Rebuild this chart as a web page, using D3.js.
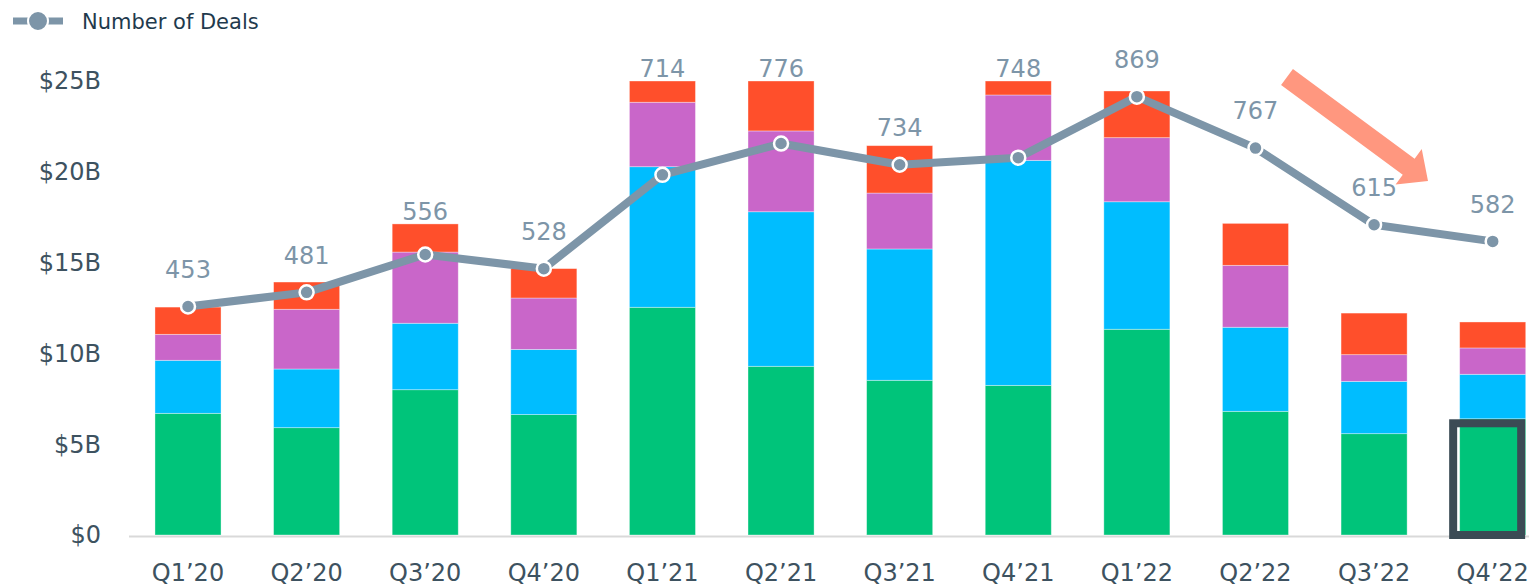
<!DOCTYPE html>
<html lang="en">
<head>
<meta charset="UTF-8">
<title>Funding and Number of Deals</title>
<script src="https://d3js.org/d3.v7.min.js"></script>
<style>
    body { margin: 0; background: #fff; }
    svg { display: block; font-family: "DejaVu Sans", sans-serif; }
    .tick-label { font-size: 24px; fill: #3d5260; }
    .deal-label { font-size: 24px; fill: #7d95a8; }
</style>
</head>
<body>
<script>
// quarters and stacked funding ($B), bottom to top
const quarters = ["Q1\u201920", "Q2\u201920", "Q3\u201920", "Q4\u201920", "Q1\u201921", "Q2\u201921",
                  "Q3\u201921", "Q4\u201921", "Q1\u201922", "Q2\u201922", "Q3\u201922", "Q4\u201922"];
const series1 = [6.70, 5.91, 8.00, 6.63, 12.54, 9.29, 8.52, 8.24, 11.33, 6.81, 5.58, 6.40];
const series2 = [2.92, 3.23, 3.66, 3.59, 7.74, 8.51, 7.23, 12.39, 7.02, 4.63, 2.88, 2.45];
const series3 = [1.43, 3.29, 3.92, 2.83, 3.55, 4.45, 3.08, 3.60, 3.53, 3.41, 1.47, 1.45];
const series4 = [1.50, 1.50, 1.55, 1.62, 1.17, 2.75, 2.61, 0.77, 2.57, 2.31, 2.29, 1.43];
const deals = [453, 481, 556, 528, 714, 776, 734, 748, 869, 767, 615, 582];
const yTicks = [0, 5, 10, 15, 20, 25];

const seriesKeys = ["s1", "s2", "s3", "s4"];
const colors = { s1: "#00c47a", s2: "#00bdff", s3: "#c966c9", s4: "#ff4f2b" };
const lineColor = "#7d95a8";

const width = 1529, height = 585;
const baseY = 535, topY = 81;

const rows = quarters.map((q, i) => ({
    q, s1: series1[i], s2: series2[i], s3: series3[i], s4: series4[i], deals: deals[i]
}));

const svg = d3.select("body").append("svg")
    .attr("width", width)
    .attr("height", height);

const x = d3.scaleBand()
    .domain(quarters)
    .range([128.7, 1552])
    .paddingInner(0.443)
    .paddingOuter(0.2215);

const y = d3.scaleLinear().domain([0, 25]).range([baseY, topY]);
const yDeals = d3.scaleLinear().domain([0, 900]).range([baseY, topY]);

// y axis labels
svg.append("g")
    .selectAll("text")
    .data(yTicks)
    .enter().append("text")
    .attr("class", "tick-label")
    .attr("x", 101)
    .attr("y", d => y(d))
    .attr("dy", "0.35em")
    .attr("text-anchor", "end")
    .text(d => d === 0 ? "$0" : "$" + d + "B");

// stacked bars
const stacked = d3.stack().keys(seriesKeys)(rows);

svg.append("g")
    .selectAll("g")
    .data(stacked)
    .enter().append("g")
    .attr("fill", d => colors[d.key])
    .selectAll("rect")
    .data(d => d)
    .enter().append("rect")
    .attr("x", d => x(d.data.q))
    .attr("width", x.bandwidth())
    .attr("y", d => y(d[1]))
    .attr("height", d => y(d[0]) - y(d[1]))
    .attr("stroke", "#fff")
    .attr("stroke-opacity", 0.45)
    .attr("stroke-width", 0.8);

// baseline
svg.append("line")
    .attr("x1", 129).attr("x2", width)
    .attr("y1", baseY + 1.5).attr("y2", baseY + 1.5)
    .attr("stroke", "#d9d9d9")
    .attr("stroke-width", 2);

// x axis labels
svg.append("g")
    .selectAll("text")
    .data(quarters)
    .enter().append("text")
    .attr("class", "tick-label")
    .attr("x", d => x(d) + x.bandwidth() / 2)
    .attr("y", 581)
    .attr("text-anchor", "middle")
    .text(d => d);

// highlight box round the last green segment
const last = stacked[0][quarters.length - 1];
svg.append("rect")
    .attr("x", x(quarters[quarters.length - 1]) - 6.5)
    .attr("y", y(last[1]) + 4.5)
    .attr("width", 68)
    .attr("height", baseY - y(last[1]) - 4.5)
    .attr("fill", "none")
    .attr("stroke", "#3b4b55")
    .attr("stroke-width", 8);

// deals line
const cx = d => x(d.q) + x.bandwidth() / 2;

svg.append("path")
    .datum(rows)
    .attr("fill", "none")
    .attr("stroke", lineColor)
    .attr("stroke-width", 8)
    .attr("stroke-linejoin", "round")
    .attr("d", d3.line().x(cx).y(d => yDeals(d.deals)));

svg.append("g")
    .selectAll("circle")
    .data(rows)
    .enter().append("circle")
    .attr("cx", cx)
    .attr("cy", d => yDeals(d.deals))
    .attr("r", 7)
    .attr("fill", lineColor)
    .attr("stroke", "#fff")
    .attr("stroke-width", 2.5);

// deal labels: above the point, but never down inside the bar
svg.append("g")
    .selectAll("text")
    .data(rows)
    .enter().append("text")
    .attr("class", "deal-label")
    .attr("x", cx)
    .attr("y", d => {
        const above = yDeals(d.deals) - 37;
        const barTop = y(d.s1 + d.s2 + d.s3 + d.s4);
        return Math.min(above, barTop - 12);
    })
    .attr("dy", "0.35em")
    .attr("text-anchor", "middle")
    .text(d => d.deals);

// trend arrow
const a0 = [1287, 77], a1 = [1428, 181];
const len = Math.hypot(a1[0] - a0[0], a1[1] - a0[1]);
const ux = (a1[0] - a0[0]) / len, uy = (a1[1] - a0[1]) / len;
const nx = -uy, ny = ux;
const shaft = 10, headW = 22, headL = 24;
const hb = [a1[0] - ux * headL, a1[1] - uy * headL];
const pts = [
    [a0[0] + nx * shaft, a0[1] + ny * shaft],
    [hb[0] + nx * shaft, hb[1] + ny * shaft],
    [hb[0] + nx * headW, hb[1] + ny * headW],
    a1,
    [hb[0] - nx * headW, hb[1] - ny * headW],
    [hb[0] - nx * shaft, hb[1] - ny * shaft],
    [a0[0] - nx * shaft, a0[1] - ny * shaft]
];
svg.append("polygon")
    .attr("points", pts.map(p => p.join(",")).join(" "))
    .attr("fill", "#ff977f");

// legend
const legend = svg.append("g");
legend.append("line")
    .attr("x1", 13).attr("x2", 63)
    .attr("y1", 21).attr("y2", 21)
    .attr("stroke", lineColor)
    .attr("stroke-width", 7);
legend.append("circle")
    .attr("cx", 38).attr("cy", 21).attr("r", 10)
    .attr("fill", lineColor)
    .attr("stroke", "#fff")
    .attr("stroke-width", 2);
legend.append("text")
    .attr("x", 82)
    .attr("y", 22)
    .attr("dy", "0.35em")
    .attr("font-size", 21)
    .attr("fill", "#1f3a4d")
    .text("Number of Deals");
</script>
</body>
</html>
